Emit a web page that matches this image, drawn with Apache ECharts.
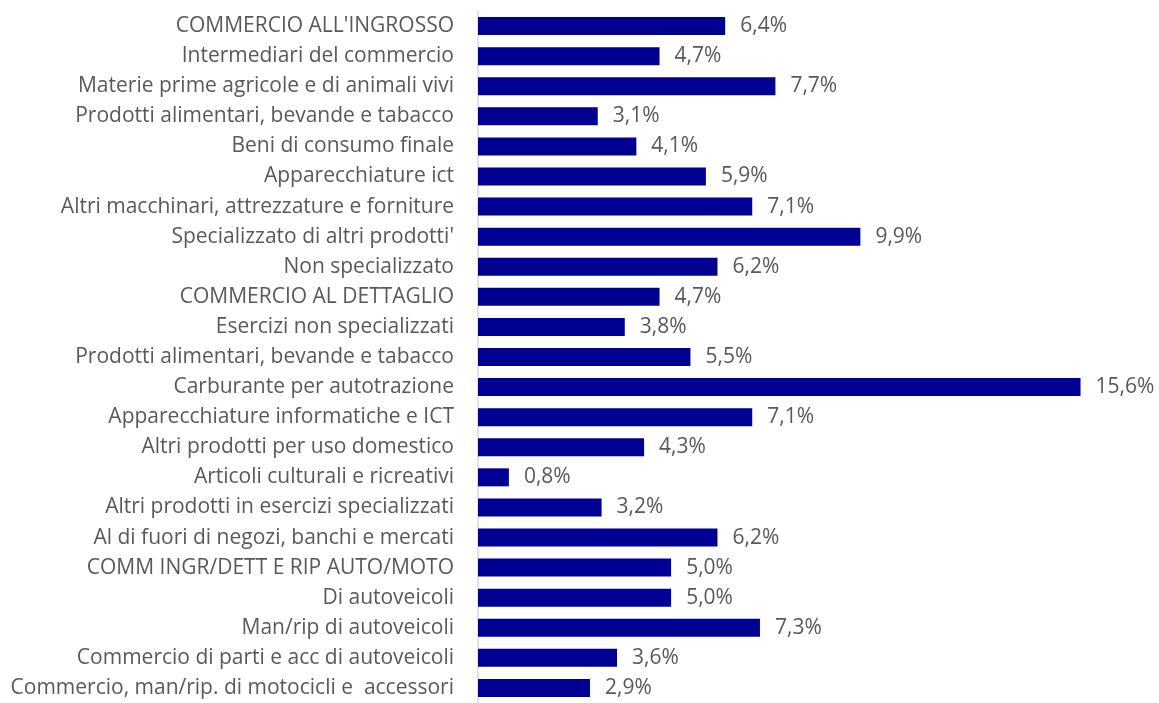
<!DOCTYPE html>
<html><head><meta charset="utf-8">
<script src="https://cdn.jsdelivr.net/npm/echarts@6/dist/echarts.min.js"></script>
<style>html,body{margin:0;padding:0;background:#fff}#c{width:1159px;height:703px}</style>
</head><body><div id="c"></div>
<script>
const categories = [
 "COMMERCIO ALL'INGROSSO",
 "Intermediari del commercio",
 "Materie prime agricole e di animali vivi",
 "Prodotti alimentari, bevande e tabacco",
 "Beni di consumo finale",
 "Apparecchiature ict",
 "Altri macchinari, attrezzature e forniture",
 "Specializzato di altri prodotti'",
 "Non specializzato",
 "COMMERCIO AL DETTAGLIO",
 "Esercizi non specializzati",
 "Prodotti alimentari, bevande e tabacco",
 "Carburante per autotrazione",
 "Apparecchiature informatiche e ICT",
 "Altri prodotti per uso domestico",
 "Articoli culturali e ricreativi",
 "Altri prodotti in esercizi specializzati",
 "Al di fuori di negozi, banchi e mercati",
 "COMM INGR/DETT E RIP AUTO/MOTO",
 "Di autoveicoli",
 "Man/rip di autoveicoli",
 "Commercio di parti e acc di autoveicoli",
 "Commercio, man/rip. di motocicli e  accessori"
];
const values = [6.4,4.7,7.7,3.1,4.1,5.9,7.1,9.9,6.2,4.7,3.8,5.5,15.6,7.1,4.3,0.8,3.2,6.2,5.0,5.0,7.3,3.6,2.9];

const chart = echarts.init(document.getElementById('c'));
chart.setOption({
  animation:false,
  grid:{left:478, top:11, width:618, height:696, containLabel:false},
  xAxis:{type:'value', min:0, max:16, show:false},
  yAxis:{type:'category', data:categories, inverse:true,
    axisLine:{show:true, lineStyle:{color:'#d9d9d9', width:1.5}},
    axisTick:{show:false},
    axisLabel:{margin:24, color:'#595959', fontSize:21, fontFamily:'Open Sans'}
  },
  series:[{type:'bar', data:values, barWidth:18,
    itemStyle:{color:'#000092'},
    label:{show:true, position:'right', distance:15, color:'#595959', fontSize:21, fontFamily:'Open Sans',
      formatter:p=>p.value.toFixed(1).replace('.',',')+'%'}
  }]
});
</script></body></html>
